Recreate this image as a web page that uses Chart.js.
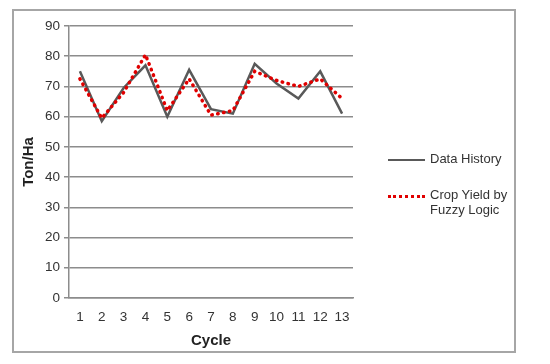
<!DOCTYPE html>
<html>
<head>
<meta charset="utf-8">
<script src="https://cdn.jsdelivr.net/npm/chart.js"></script>
<style>
  body { margin: 0; background: #fff; }
  #wrap { position: relative; width: 550px; height: 364px; }
  #frame {
    position: absolute; left: 12px; top: 9px; width: 500px; height: 340px;
    border: 2px solid #a6a6a6;
  }
  #legend {
    position: absolute; left: 388px; top: 151px;
    font-family: "Liberation Sans", Arial, sans-serif; font-size: 13px; color: #333;
  }
  .legend-item { display: flex; align-items: flex-start; margin-bottom: 21px; }
  .legend-line { width: 37px; height: 0; margin-top: 8px; margin-right: 5px; }
  .legend-text { line-height: 15px; }
</style>
</head>
<body>
<div id="wrap">
  <canvas id="chart" width="550" height="364"></canvas>
  <div id="frame"></div>
  <div id="legend">
    <div class="legend-item">
      <span class="legend-line" style="border-top: 2.5px solid #595959;"></span>
      <span class="legend-text">Data History</span>
    </div>
    <div class="legend-item">
      <span class="legend-line" style="border-top: 3px dotted #e00000;"></span>
      <span class="legend-text">Crop Yield by<br>Fuzzy Logic</span>
    </div>
  </div>
</div>
<script>
// 周期ラベル
const cycles = ['1', '2', '3', '4', '5', '6', '7', '8', '9', '10', '11', '12', '13'];
// 実測データ
const dataHistory = [75, 58.5, 69.5, 77, 60, 75.5, 62.5, 61, 77.5, 71, 66, 75, 61];
// ファジー推論による予測
const fuzzyYield = [72.5, 59.5, 68, 80.5, 62, 72.5, 60.5, 62, 75, 72, 70, 72.5, 66];
const yTicks = [0, 10, 20, 30, 40, 50, 60, 70, 80, 90];

const ctx = document.getElementById('chart').getContext('2d');
new Chart(ctx, {
  type: 'line',
  data: {
    labels: cycles,
    datasets: [
      {
        label: 'Data History',
        data: dataHistory,
        borderColor: '#595959',
        borderWidth: 2.5,
        pointRadius: 0,
        tension: 0,
        fill: false,
        order: 1,
      },
      {
        label: 'Crop Yield by Fuzzy Logic',
        data: fuzzyYield,
        borderColor: '#e00000',
        borderWidth: 3.5,
        borderDash: [0.5, 5.5],
        borderCapStyle: 'round',
        pointRadius: 0,
        tension: 0,
        fill: false,
        order: 0,
      },
    ],
  },
  options: {
    responsive: false,
    animation: false,
    layout: { padding: { left: 20, right: 197, top: 26, bottom: 14 } },
    plugins: { legend: { display: false }, tooltip: { enabled: false } },
    scales: {
      x: {
        offset: true,
        grid: { display: false, drawTicks: false },
        border: { color: '#8c8c8c', width: 1.5 },
        ticks: {
          color: '#333',
          padding: 11,
          font: { family: '"Liberation Sans", Arial, sans-serif', size: 13.5 },
          maxRotation: 0,
        },
        title: {
          display: true,
          text: 'Cycle',
          color: '#222',
          padding: { top: 4, bottom: 0 },
          font: { family: '"Liberation Sans", Arial, sans-serif', size: 15, weight: 'bold' },
        },
        afterFit: scale => { scale.height = 52; },
      },
      y: {
        min: 0,
        max: 90,
        afterBuildTicks: scale => { scale.ticks = yTicks.map(v => ({ value: v })); },
        grid: { color: '#8c8c8c', lineWidth: 1.5, tickLength: 5 },
        border: { color: '#8c8c8c', width: 1.5 },
        ticks: {
          color: '#333',
          padding: 4,
          font: { family: '"Liberation Sans", Arial, sans-serif', size: 13.5 },
        },
        title: {
          display: true,
          text: 'Ton/Ha',
          color: '#222',
          padding: { top: 0, bottom: 4 },
          font: { family: '"Liberation Sans", Arial, sans-serif', size: 15, weight: 'bold' },
        },
        afterFit: scale => { scale.width = 49; },
      },
    },
  },
});
</script>
</body>
</html>
